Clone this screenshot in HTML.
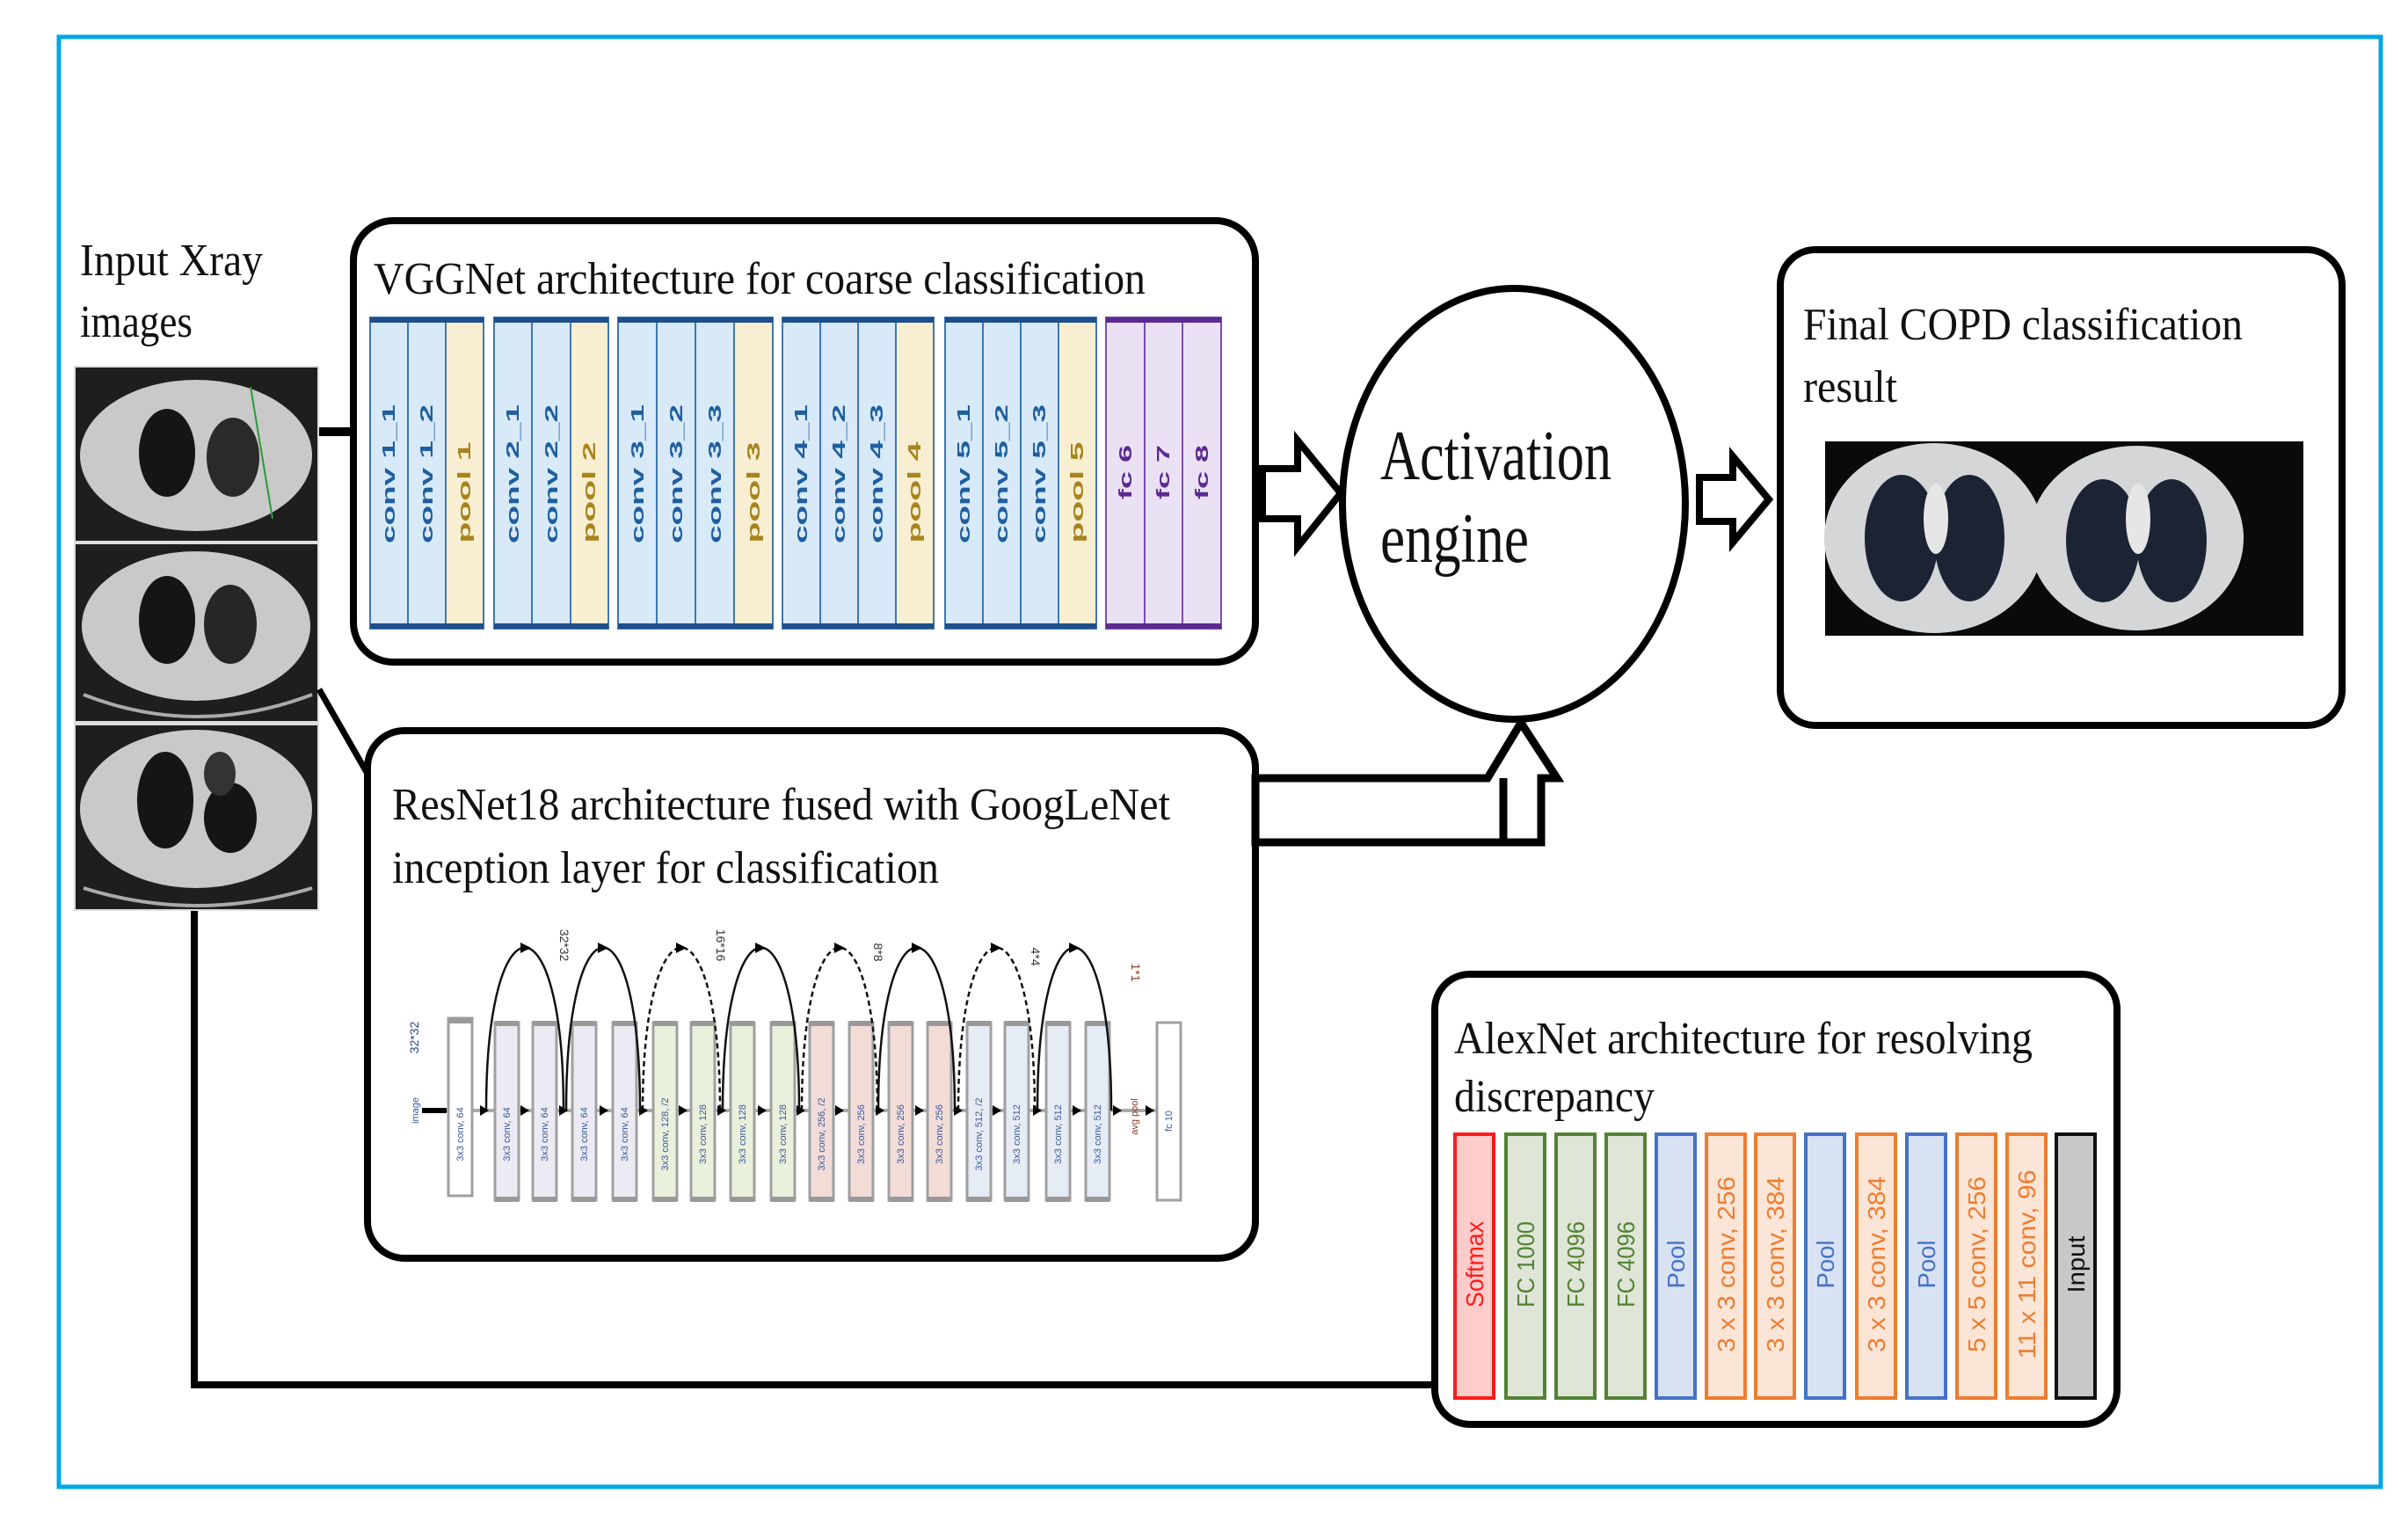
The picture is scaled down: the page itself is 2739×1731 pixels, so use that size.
<!DOCTYPE html>
<html><head><meta charset="utf-8"><style>
html,body{margin:0;padding:0;background:#fff;}
svg{display:block;}
.s{font-family:"Liberation Serif",serif;fill:#111;}
.v{font-family:"Liberation Sans",sans-serif;font-weight:bold;font-size:20px;}
.a{font-family:"Liberation Sans",sans-serif;font-size:28px;}
.r{font-family:"Liberation Sans",sans-serif;font-size:11px;fill:#3a5a9a;}
</style></head><body>
<svg width="2739" height="1731" viewBox="0 0 2739 1731" xmlns="http://www.w3.org/2000/svg">
<rect x="0" y="0" width="2739" height="1731" fill="#fff"/>
<rect x="67" y="42" width="2641" height="1649" fill="none" stroke="#00a8e8" stroke-width="5"/>

<text class="s" x="91" y="313" font-size="52" textLength="208" lengthAdjust="spacingAndGlyphs">Input Xray</text>
<text class="s" x="91" y="383" font-size="52" textLength="128" lengthAdjust="spacingAndGlyphs">images</text>

<g>
 <rect x="84" y="416" width="279" height="620" fill="#ddd"/>
 <rect x="86" y="418" width="275" height="197" fill="#1e1e1e"/>
 <ellipse cx="223" cy="518" rx="132" ry="86" fill="#c9c9c9"/>
 <ellipse cx="190" cy="515" rx="32" ry="50" fill="#151515"/>
 <ellipse cx="265" cy="520" rx="30" ry="45" fill="#2a2a2a"/>
 <path d="M285 440 L310 590" stroke="#2a9a3a" stroke-width="2"/>
 <rect x="86" y="619" width="275" height="201" fill="#1e1e1e"/>
 <ellipse cx="223" cy="712" rx="130" ry="85" fill="#c9c9c9"/>
 <ellipse cx="190" cy="705" rx="32" ry="50" fill="#151515"/>
 <ellipse cx="262" cy="710" rx="30" ry="45" fill="#262626"/>
 <path d="M95 790 Q223 840 355 790" stroke="#aaa" stroke-width="4" fill="none"/>
 <rect x="86" y="825" width="275" height="209" fill="#1e1e1e"/>
 <ellipse cx="223" cy="920" rx="132" ry="90" fill="#c9c9c9"/>
 <ellipse cx="188" cy="910" rx="32" ry="55" fill="#151515"/>
 <ellipse cx="262" cy="930" rx="30" ry="40" fill="#151515"/>
 <ellipse cx="250" cy="880" rx="18" ry="25" fill="#333"/>
 <path d="M95 1010 Q223 1050 355 1010" stroke="#aaa" stroke-width="4" fill="none"/>
</g>

<line x1="363" y1="491" x2="402" y2="491" stroke="#000" stroke-width="10"/>
<line x1="363" y1="784" x2="418" y2="880" stroke="#000" stroke-width="7"/>
<polyline points="221,1036 221,1575 1632,1575" fill="none" stroke="#000" stroke-width="8"/>

<rect x="402" y="251" width="1026" height="502" rx="45" fill="#fff" stroke="#000" stroke-width="8"/>
<text class="s" x="425" y="334" font-size="52" textLength="878" lengthAdjust="spacingAndGlyphs">VGGNet architecture for coarse classification</text>
<g stroke-width="2">
 <rect x="421" y="361" width="86" height="354" fill="#d8e9f8" stroke="#3e78b0"/>
 <line x1="464" y1="361" x2="464" y2="715" stroke="#3e78b0" stroke-width="2"/>
 <rect x="507" y="361" width="43" height="354" fill="#f8efd2" stroke="#3e78b0"/>
 <rect x="562" y="361" width="87" height="354" fill="#d8e9f8" stroke="#3e78b0"/>
 <line x1="605" y1="361" x2="605" y2="715" stroke="#3e78b0"/>
 <rect x="649" y="361" width="43" height="354" fill="#f8efd2" stroke="#3e78b0"/>
 <rect x="703" y="361" width="132" height="354" fill="#d8e9f8" stroke="#3e78b0"/>
 <line x1="747" y1="361" x2="747" y2="715" stroke="#3e78b0"/>
 <line x1="791" y1="361" x2="791" y2="715" stroke="#3e78b0"/>
 <rect x="835" y="361" width="44" height="354" fill="#f8efd2" stroke="#3e78b0"/>
 <rect x="890" y="361" width="129" height="354" fill="#d8e9f8" stroke="#3e78b0"/>
 <line x1="933" y1="361" x2="933" y2="715" stroke="#3e78b0"/>
 <line x1="976" y1="361" x2="976" y2="715" stroke="#3e78b0"/>
 <rect x="1019" y="361" width="43" height="354" fill="#f8efd2" stroke="#3e78b0"/>
 <rect x="1075" y="361" width="129" height="354" fill="#d8e9f8" stroke="#3e78b0"/>
 <line x1="1118" y1="361" x2="1118" y2="715" stroke="#3e78b0"/>
 <line x1="1161" y1="361" x2="1161" y2="715" stroke="#3e78b0"/>
 <rect x="1204" y="361" width="43" height="354" fill="#f8efd2" stroke="#3e78b0"/>
 <rect x="1258" y="361" width="131" height="354" fill="#ebe1f5" stroke="#7b4fb0"/>
 <line x1="1302" y1="361" x2="1302" y2="715" stroke="#7b4fb0"/>
 <line x1="1345" y1="361" x2="1345" y2="715" stroke="#7b4fb0"/>
</g>
<g fill="#1f4f8c">
 <rect x="421" y="361" width="129" height="6"/><rect x="421" y="709" width="129" height="6"/>
 <rect x="562" y="361" width="130" height="6"/><rect x="562" y="709" width="130" height="6"/>
 <rect x="703" y="361" width="176" height="6"/><rect x="703" y="709" width="176" height="6"/>
 <rect x="890" y="361" width="172" height="6"/><rect x="890" y="709" width="172" height="6"/>
 <rect x="1075" y="361" width="172" height="6"/><rect x="1075" y="709" width="172" height="6"/>
 <rect x="1258" y="361" width="131" height="6" fill="#5a2a90"/><rect x="1258" y="709" width="131" height="6" fill="#5a2a90"/>
</g>
<g class="v" fill="#1f5fa0" text-anchor="middle">
 <text transform="translate(442,539) rotate(-90)" dy="7" textLength="158" lengthAdjust="spacingAndGlyphs">conv 1_1</text>
 <text transform="translate(485,539) rotate(-90)" dy="7" textLength="158" lengthAdjust="spacingAndGlyphs">conv 1_2</text>
 <text transform="translate(583,539) rotate(-90)" dy="7" textLength="158" lengthAdjust="spacingAndGlyphs">conv 2_1</text>
 <text transform="translate(627,539) rotate(-90)" dy="7" textLength="158" lengthAdjust="spacingAndGlyphs">conv 2_2</text>
 <text transform="translate(725,539) rotate(-90)" dy="7" textLength="158" lengthAdjust="spacingAndGlyphs">conv 3_1</text>
 <text transform="translate(769,539) rotate(-90)" dy="7" textLength="158" lengthAdjust="spacingAndGlyphs">conv 3_2</text>
 <text transform="translate(813,539) rotate(-90)" dy="7" textLength="158" lengthAdjust="spacingAndGlyphs">conv 3_3</text>
 <text transform="translate(911,539) rotate(-90)" dy="7" textLength="158" lengthAdjust="spacingAndGlyphs">conv 4_1</text>
 <text transform="translate(954,539) rotate(-90)" dy="7" textLength="158" lengthAdjust="spacingAndGlyphs">conv 4_2</text>
 <text transform="translate(997,539) rotate(-90)" dy="7" textLength="158" lengthAdjust="spacingAndGlyphs">conv 4_3</text>
 <text transform="translate(1096,539) rotate(-90)" dy="7" textLength="158" lengthAdjust="spacingAndGlyphs">conv 5_1</text>
 <text transform="translate(1139,539) rotate(-90)" dy="7" textLength="158" lengthAdjust="spacingAndGlyphs">conv 5_2</text>
 <text transform="translate(1182,539) rotate(-90)" dy="7" textLength="158" lengthAdjust="spacingAndGlyphs">conv 5_3</text>
</g>
<g class="v" fill="#a8841e" text-anchor="middle">
 <text transform="translate(528,560) rotate(-90)" dy="7" textLength="115" lengthAdjust="spacingAndGlyphs">pool 1</text>
 <text transform="translate(670,560) rotate(-90)" dy="7" textLength="115" lengthAdjust="spacingAndGlyphs">pool 2</text>
 <text transform="translate(857,560) rotate(-90)" dy="7" textLength="115" lengthAdjust="spacingAndGlyphs">pool 3</text>
 <text transform="translate(1040,560) rotate(-90)" dy="7" textLength="115" lengthAdjust="spacingAndGlyphs">pool 4</text>
 <text transform="translate(1225,560) rotate(-90)" dy="7" textLength="115" lengthAdjust="spacingAndGlyphs">pool 5</text>
</g>
<g class="v" fill="#5a2a90" text-anchor="middle">
 <text transform="translate(1280,537) rotate(-90)" dy="7" textLength="62" lengthAdjust="spacingAndGlyphs">fc 6</text>
 <text transform="translate(1323,537) rotate(-90)" dy="7" textLength="62" lengthAdjust="spacingAndGlyphs">fc 7</text>
 <text transform="translate(1367,537) rotate(-90)" dy="7" textLength="62" lengthAdjust="spacingAndGlyphs">fc 8</text>
</g>

<polygon points="1436,533 1476,533 1476,501 1525,561 1476,622 1476,590 1436,590" fill="#fff" stroke="#000" stroke-width="8" stroke-linejoin="miter"/>
<polygon points="1933,543 1971,543 1971,519 2012,568 1971,617 1971,593 1933,593" fill="#fff" stroke="#000" stroke-width="8"/>

<ellipse cx="1722" cy="573" rx="195" ry="245" fill="#fff" stroke="#000" stroke-width="8"/>
<text class="s" x="1570" y="545" font-size="80" textLength="263" lengthAdjust="spacingAndGlyphs">Activation</text>
<text class="s" x="1570" y="639" font-size="80" textLength="169" lengthAdjust="spacingAndGlyphs">engine</text>

<rect x="418" y="831" width="1010" height="600" rx="42" fill="#fff" stroke="#000" stroke-width="8"/>
<polygon points="1428,885 1692,885 1730,822 1771,885 1753,885 1753,958 1428,958" fill="#fff" stroke="#000" stroke-width="9"/>
<line x1="1710" y1="885" x2="1710" y2="958" stroke="#000" stroke-width="9"/>
<text class="s" x="446" y="932" font-size="52" textLength="885" lengthAdjust="spacingAndGlyphs">ResNet18 architecture fused with GoogLeNet</text>
<text class="s" x="446" y="1004" font-size="52" textLength="622" lengthAdjust="spacingAndGlyphs">inception layer for classification</text>

<g>
 <line x1="480" y1="1263" x2="1340" y2="1263" stroke="#aaa" stroke-width="4"/>
 <line x1="480" y1="1263" x2="508" y2="1263" stroke="#000" stroke-width="6"/>
 <rect x="510" y="1158" width="27" height="202" fill="#fff" stroke="#a0a0a0" stroke-width="3"/>
 <rect x="510" y="1158" width="27" height="6" fill="#999"/>
 <g stroke="#a0a0a0" stroke-width="3">
  <rect x="563" y="1163" width="27" height="202" fill="#ecebf3"/>
  <rect x="606" y="1163" width="27" height="202" fill="#ecebf3"/>
  <rect x="651" y="1163" width="27" height="202" fill="#ecebf3"/>
  <rect x="697" y="1163" width="27" height="202" fill="#ecebf3"/>
  <rect x="743" y="1163" width="27" height="202" fill="#e9f0dc"/>
  <rect x="786" y="1163" width="27" height="202" fill="#e9f0dc"/>
  <rect x="831" y="1163" width="27" height="202" fill="#e9f0dc"/>
  <rect x="877" y="1163" width="27" height="202" fill="#e9f0dc"/>
  <rect x="921" y="1163" width="27" height="202" fill="#f2dcd8"/>
  <rect x="966" y="1163" width="27" height="202" fill="#f2dcd8"/>
  <rect x="1011" y="1163" width="27" height="202" fill="#f2dcd8"/>
  <rect x="1055" y="1163" width="27" height="202" fill="#f2dcd8"/>
  <rect x="1100" y="1163" width="27" height="202" fill="#e6ecf4"/>
  <rect x="1143" y="1163" width="27" height="202" fill="#e6ecf4"/>
  <rect x="1190" y="1163" width="27" height="202" fill="#e6ecf4"/>
  <rect x="1235" y="1163" width="27" height="202" fill="#e6ecf4"/>
  <rect x="1316" y="1163" width="27" height="202" fill="#fff"/>
 </g>
 <g fill="#999">
  <rect x="563" y="1161" width="27" height="6"/><rect x="606" y="1161" width="27" height="6"/>
  <rect x="651" y="1161" width="27" height="6"/><rect x="697" y="1161" width="27" height="6"/>
  <rect x="743" y="1161" width="27" height="6"/><rect x="786" y="1161" width="27" height="6"/>
  <rect x="831" y="1161" width="27" height="6"/><rect x="877" y="1161" width="27" height="6"/>
  <rect x="921" y="1161" width="27" height="6"/><rect x="966" y="1161" width="27" height="6"/>
  <rect x="1011" y="1161" width="27" height="6"/><rect x="1055" y="1161" width="27" height="6"/>
  <rect x="1100" y="1161" width="27" height="6"/><rect x="1143" y="1161" width="27" height="6"/>
  <rect x="1190" y="1161" width="27" height="6"/><rect x="1235" y="1161" width="27" height="6"/>
  <rect x="563" y="1361" width="27" height="6"/><rect x="606" y="1361" width="27" height="6"/>
  <rect x="651" y="1361" width="27" height="6"/><rect x="697" y="1361" width="27" height="6"/>
  <rect x="743" y="1361" width="27" height="6"/><rect x="786" y="1361" width="27" height="6"/>
  <rect x="831" y="1361" width="27" height="6"/><rect x="877" y="1361" width="27" height="6"/>
  <rect x="921" y="1361" width="27" height="6"/><rect x="966" y="1361" width="27" height="6"/>
  <rect x="1011" y="1361" width="27" height="6"/><rect x="1055" y="1361" width="27" height="6"/>
  <rect x="1100" y="1361" width="27" height="6"/><rect x="1143" y="1361" width="27" height="6"/>
  <rect x="1190" y="1361" width="27" height="6"/><rect x="1235" y="1361" width="27" height="6"/>
 </g>
 <g fill="#000">
  <polygon points="546,1257 556,1263 546,1269"/><polygon points="592,1257 602,1263 592,1269"/>
  <polygon points="636,1257 646,1263 636,1269"/><polygon points="682,1257 692,1263 682,1269"/>
  <polygon points="727,1257 737,1263 727,1269"/><polygon points="772,1257 782,1263 772,1269"/>
  <polygon points="816,1257 826,1263 816,1269"/><polygon points="862,1257 872,1263 862,1269"/>
  <polygon points="906,1257 916,1263 906,1269"/><polygon points="950,1257 960,1263 950,1269"/>
  <polygon points="996,1257 1006,1263 996,1269"/><polygon points="1041,1257 1051,1263 1041,1269"/>
  <polygon points="1085,1257 1095,1263 1085,1269"/><polygon points="1129,1257 1139,1263 1129,1269"/>
  <polygon points="1175,1257 1185,1263 1175,1269"/><polygon points="1220,1257 1230,1263 1220,1269"/>
  <polygon points="1266,1257 1276,1263 1266,1269"/><polygon points="1303,1257 1313,1263 1303,1269"/>
 </g>
 <g fill="none" stroke="#111" stroke-width="2.5">
  <path d="M553 1263 C553 1016 641 1016 641 1263"/>
  <path d="M644 1263 C644 1016 728 1016 728 1263"/>
  <path d="M731 1263 C731 1016 819 1016 819 1263" stroke-dasharray="6 4"/>
  <path d="M822 1263 C822 1016 909 1016 909 1263"/>
  <path d="M912 1263 C912 1016 998 1016 998 1263" stroke-dasharray="6 4"/>
  <path d="M999 1263 C999 1016 1086 1016 1086 1263"/>
  <path d="M1090 1263 C1090 1016 1177 1016 1177 1263" stroke-dasharray="6 4"/>
  <path d="M1180 1263 C1180 1016 1264 1016 1264 1263"/>
 </g>
 <g fill="#000">
  <polygon points="592,1072 604,1078 592,1084"/><polygon points="680,1072 692,1078 680,1084"/>
  <polygon points="769,1072 781,1078 769,1084"/><polygon points="859,1072 871,1078 859,1084"/>
  <polygon points="949,1072 961,1078 949,1084"/><polygon points="1037,1072 1049,1078 1037,1084"/>
  <polygon points="1127,1072 1139,1078 1127,1084"/><polygon points="1216,1072 1228,1078 1216,1084"/>
 </g>
 <g class="r" text-anchor="middle">
  <text transform="translate(641,1075) rotate(90)" dy="4" font-size="14" fill="#333">32*32</text>
  <text transform="translate(819,1075) rotate(90)" dy="4" font-size="14" fill="#333">16*16</text>
  <text transform="translate(998,1083) rotate(90)" dy="4" font-size="14" fill="#333">8*8</text>
  <text transform="translate(1177,1088) rotate(90)" dy="4" font-size="14" fill="#333">4*4</text>
  <text transform="translate(1291,1106) rotate(90)" dy="4" font-size="14" fill="#8a3a2a">1*1</text>
  <text transform="translate(472,1180) rotate(-90)" dy="4" font-size="14" fill="#2a4a8a">32*32</text>
  <text transform="translate(472,1263) rotate(-90)" dy="4">image</text>
  <text transform="translate(523,1290) rotate(-90)" dy="4">3x3 conv, 64</text>
  <text transform="translate(576,1290) rotate(-90)" dy="4">3x3 conv, 64</text>
  <text transform="translate(619,1290) rotate(-90)" dy="4">3x3 conv, 64</text>
  <text transform="translate(664,1290) rotate(-90)" dy="4">3x3 conv, 64</text>
  <text transform="translate(710,1290) rotate(-90)" dy="4">3x3 conv, 64</text>
  <text transform="translate(756,1290) rotate(-90)" dy="4">3x3 conv, 128, /2</text>
  <text transform="translate(799,1290) rotate(-90)" dy="4">3x3 conv, 128</text>
  <text transform="translate(844,1290) rotate(-90)" dy="4">3x3 conv, 128</text>
  <text transform="translate(890,1290) rotate(-90)" dy="4">3x3 conv, 128</text>
  <text transform="translate(934,1290) rotate(-90)" dy="4">3x3 conv, 256, /2</text>
  <text transform="translate(979,1290) rotate(-90)" dy="4">3x3 conv, 256</text>
  <text transform="translate(1024,1290) rotate(-90)" dy="4">3x3 conv, 256</text>
  <text transform="translate(1068,1290) rotate(-90)" dy="4">3x3 conv, 256</text>
  <text transform="translate(1113,1290) rotate(-90)" dy="4">3x3 conv, 512, /2</text>
  <text transform="translate(1156,1290) rotate(-90)" dy="4">3x3 conv, 512</text>
  <text transform="translate(1203,1290) rotate(-90)" dy="4">3x3 conv, 512</text>
  <text transform="translate(1248,1290) rotate(-90)" dy="4">3x3 conv, 512</text>
  <text transform="translate(1290,1270) rotate(-90)" dy="4" fill="#8a3a2a">avg pool</text>
  <text transform="translate(1329,1275) rotate(-90)" dy="4">fc 10</text>
 </g>
</g>

<rect x="2025" y="284" width="639" height="541" rx="40" fill="#fff" stroke="#000" stroke-width="8"/>
<text class="s" x="2051" y="386" font-size="52" textLength="500" lengthAdjust="spacingAndGlyphs">Final COPD classification</text>
<text class="s" x="2051" y="457" font-size="52" textLength="107" lengthAdjust="spacingAndGlyphs">result</text>
<rect x="2076" y="502" width="544" height="221" fill="#0a0a0a"/>
<ellipse cx="2200" cy="612" rx="125" ry="108" fill="#d4d6d8"/>
<ellipse cx="2163" cy="612" rx="42" ry="72" fill="#1c2434"/>
<ellipse cx="2240" cy="612" rx="40" ry="72" fill="#1c2434"/>
<ellipse cx="2202" cy="590" rx="14" ry="40" fill="#e6e6e6"/>
<ellipse cx="2430" cy="612" rx="122" ry="105" fill="#d4d6d8"/>
<ellipse cx="2392" cy="615" rx="42" ry="70" fill="#1c2434"/>
<ellipse cx="2470" cy="615" rx="40" ry="70" fill="#1c2434"/>
<ellipse cx="2432" cy="590" rx="14" ry="40" fill="#e6e6e6"/>

<rect x="1632" y="1108" width="776" height="512" rx="40" fill="#fff" stroke="#000" stroke-width="8"/>
<text class="s" x="1654" y="1198" font-size="52" textLength="658" lengthAdjust="spacingAndGlyphs">AlexNet architecture for resolving</text>
<text class="s" x="1654" y="1264" font-size="52" textLength="228" lengthAdjust="spacingAndGlyphs">discrepancy</text>
<g stroke-width="4">
 <rect x="1655" y="1290" width="44" height="300" fill="#ffcccc" stroke="#ff1a1a"/>
 <rect x="1713" y="1290" width="44" height="300" fill="#dfe6d8" stroke="#548235"/>
 <rect x="1770" y="1290" width="44" height="300" fill="#dfe6d8" stroke="#548235"/>
 <rect x="1827" y="1290" width="44" height="300" fill="#dfe6d8" stroke="#548235"/>
 <rect x="1884" y="1290" width="44" height="300" fill="#d9e2f3" stroke="#4472c4"/>
 <rect x="1941" y="1290" width="44" height="300" fill="#fbe5d6" stroke="#ed7d31"/>
 <rect x="1997" y="1290" width="44" height="300" fill="#fbe5d6" stroke="#ed7d31"/>
 <rect x="2054" y="1290" width="44" height="300" fill="#d9e2f3" stroke="#4472c4"/>
 <rect x="2112" y="1290" width="44" height="300" fill="#fbe5d6" stroke="#ed7d31"/>
 <rect x="2169" y="1290" width="44" height="300" fill="#d9e2f3" stroke="#4472c4"/>
 <rect x="2226" y="1290" width="44" height="300" fill="#fbe5d6" stroke="#ed7d31"/>
 <rect x="2283" y="1290" width="44" height="300" fill="#fbe5d6" stroke="#ed7d31"/>
 <rect x="2339" y="1290" width="44" height="300" fill="#c8c8c8" stroke="#111"/>
</g>
<g class="a" text-anchor="middle">
 <text transform="translate(1677,1438) rotate(-90)" dy="10" fill="#ff1a1a" textLength="98" lengthAdjust="spacingAndGlyphs">Softmax</text>
 <text transform="translate(1735,1438) rotate(-90)" dy="10" fill="#548235" textLength="98" lengthAdjust="spacingAndGlyphs">FC 1000</text>
 <text transform="translate(1792,1438) rotate(-90)" dy="10" fill="#548235" textLength="98" lengthAdjust="spacingAndGlyphs">FC 4096</text>
 <text transform="translate(1849,1438) rotate(-90)" dy="10" fill="#548235" textLength="98" lengthAdjust="spacingAndGlyphs">FC 4096</text>
 <text transform="translate(1906,1438) rotate(-90)" dy="10" fill="#4472c4" textLength="55" lengthAdjust="spacingAndGlyphs">Pool</text>
 <text transform="translate(1963,1438) rotate(-90)" dy="10" fill="#ed7d31" textLength="200" lengthAdjust="spacingAndGlyphs">3 x 3 conv, 256</text>
 <text transform="translate(2019,1438) rotate(-90)" dy="10" fill="#ed7d31" textLength="200" lengthAdjust="spacingAndGlyphs">3 x 3 conv, 384</text>
 <text transform="translate(2076,1438) rotate(-90)" dy="10" fill="#4472c4" textLength="55" lengthAdjust="spacingAndGlyphs">Pool</text>
 <text transform="translate(2134,1438) rotate(-90)" dy="10" fill="#ed7d31" textLength="200" lengthAdjust="spacingAndGlyphs">3 x 3 conv, 384</text>
 <text transform="translate(2191,1438) rotate(-90)" dy="10" fill="#4472c4" textLength="55" lengthAdjust="spacingAndGlyphs">Pool</text>
 <text transform="translate(2248,1438) rotate(-90)" dy="10" fill="#ed7d31" textLength="200" lengthAdjust="spacingAndGlyphs">5 x 5 conv, 256</text>
 <text transform="translate(2305,1438) rotate(-90)" dy="10" fill="#ed7d31" textLength="215" lengthAdjust="spacingAndGlyphs">11 x 11 conv, 96</text>
 <text transform="translate(2361,1438) rotate(-90)" dy="10" fill="#111" textLength="65" lengthAdjust="spacingAndGlyphs">Input</text>
</g>
</svg>
</body></html>
